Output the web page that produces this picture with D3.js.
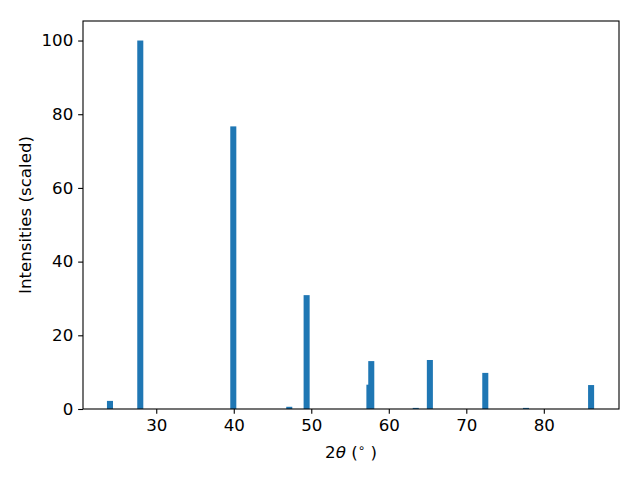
<!DOCTYPE html>
<html>
<head>
<meta charset="utf-8">
<script src="https://cdn.jsdelivr.net/npm/d3@7"></script>
<style>
  body { margin: 0; background: #fff; }
  svg { display: block; font-family: "DejaVu Sans", sans-serif; }
</style>
</head>
<body>
<svg id="chart" width="640" height="480"></svg>
<script>
const positions = [24.03, 27.94, 39.94, 47.16, 49.4, 57.5, 57.74, 63.48, 65.3, 72.45, 77.7, 86.1];
const intensities = [2.2, 100, 76.7, 0.6, 30.9, 6.6, 13.0, 0.3, 13.3, 9.8, 0.3, 6.5];
const xTicks = [30, 40, 50, 60, 70, 80];
const yTicks = [0, 20, 40, 60, 80, 100];
const barWidth = 0.78;

(function () {
const svg = d3.select("#chart");
const mLeft = 83, mRight = 619, mTop = 21, mBottom = 409;
const x = d3.scaleLinear().domain([20.55, 89.7]).range([mLeft, mRight]);
const y = d3.scaleLinear().domain([0, 105.3]).range([mBottom, mTop]);
const fs = "16.67px";

svg.append("rect").attr("width", 640).attr("height", 480).attr("fill", "#fff");

svg.append("g").selectAll("rect")
  .data(positions.map((p, i) => ({p, v: intensities[i]})))
  .join("rect")
  .attr("x", d => x(d.p - barWidth / 2))
  .attr("width", d => x(d.p + barWidth / 2) - x(d.p - barWidth / 2))
  .attr("y", d => y(d.v))
  .attr("height", d => y(0) - y(d.v))
  .attr("fill", "#1f77b4");

const xAxis = svg.append("g").attr("transform", `translate(0,${mBottom})`)
  .call(d3.axisBottom(x).tickValues(xTicks).tickSizeInner(4.86).tickSizeOuter(0).tickPadding(4.86).tickFormat(d3.format("d")));
const yAxis = svg.append("g").attr("transform", `translate(${mLeft},0)`)
  .call(d3.axisLeft(y).tickValues(yTicks).tickSizeInner(4.86).tickSizeOuter(0).tickPadding(4.86).tickFormat(d3.format("d")));
[xAxis, yAxis].forEach(g => {
  g.select(".domain").remove();
  g.selectAll(".tick line").attr("stroke", "#000").attr("stroke-width", 1.1);
  g.selectAll(".tick text").attr("fill", "#000").style("font-size", fs).style("font-family", "DejaVu Sans");
});

svg.append("rect").attr("x", mLeft).attr("y", mTop).attr("width", mRight - mLeft).attr("height", mBottom - mTop)
  .attr("fill", "none").attr("stroke", "#000").attr("stroke-width", 1.1);

const xl = svg.append("text").attr("x", (mLeft + mRight) / 2).attr("y", 458)
  .attr("text-anchor", "middle").style("font-size", fs).attr("fill", "#000");
xl.append("tspan").text("2");
xl.append("tspan").attr("font-style", "italic").text("θ");
xl.append("tspan").text(" (");
xl.append("tspan").attr("dy", -6).style("font-size", "12px").text("∘");
xl.append("tspan").attr("dy", 6).text(" )");

svg.append("text").attr("transform", `translate(31,${(mTop + mBottom) / 2}) rotate(-90)`)
  .attr("text-anchor", "middle").style("font-size", fs).attr("fill", "#000")
  .text("Intensities (scaled)");
})();
</script>
</body>
</html>
